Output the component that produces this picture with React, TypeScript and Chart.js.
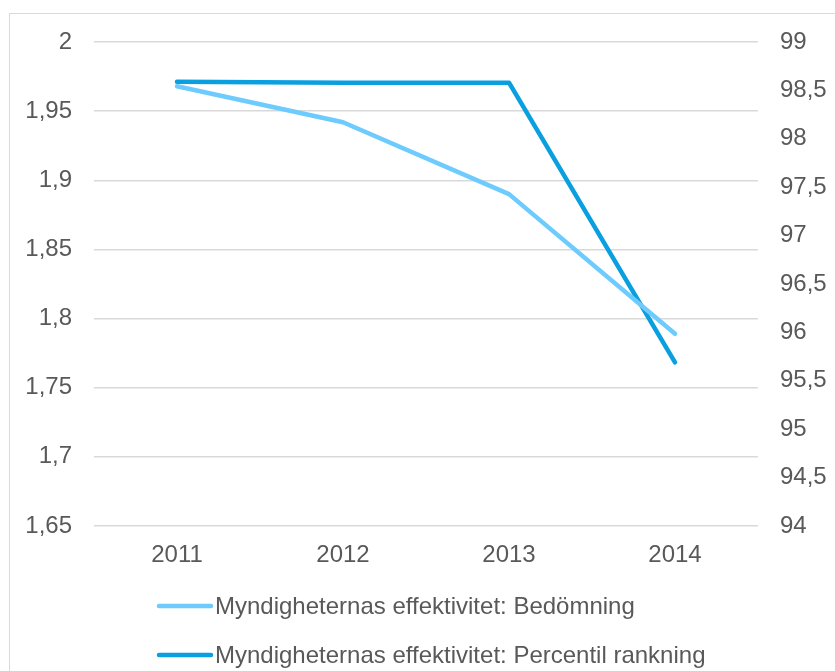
import React, { useEffect, useRef } from "react";
import { Chart, registerables } from "chart.js";

Chart.register(...registerables);

const categories = ["2011", "2012", "2013", "2014"];
const seriesNames = [
  "Myndigheternas effektivitet: Bedömning",
  "Myndigheternas effektivitet: Percentil rankning",
];
const bedomning = [1.968, 1.942, 1.89, 1.789];
const percentil = [98.59, 98.58, 98.58, 95.69];
const leftMin = 1.65;
const leftMax = 2;
const leftStep = 0.05;
const rightMin = 94;
const rightMax = 99;
const rightStep = 0.5;

const colors = ["#6DCBFE", "#0A9FDF"];
const FONT = "'Liberation Sans', Arial, sans-serif";
const TEXT = "#595959";
const GRID = "#D9D9D9";
const FS = 24;

const fmt = (v: number) => String(Number(Number(v).toFixed(2))).replace(".", ",");

export default function App() {
  const ref = useRef<HTMLCanvasElement | null>(null);

  useEffect(() => {
    if (!ref.current) return;
    const borderPlugin = {
      id: "frame",
      beforeDraw(chart: any) {
        const ctx = chart.ctx;
        ctx.save();
        ctx.fillStyle = "#ffffff";
        ctx.fillRect(0, 0, chart.width, chart.height);
        ctx.strokeStyle = GRID;
        ctx.lineWidth = 1;
        ctx.strokeRect(9.5, 13.5, 900, 800);
        ctx.restore();
      },
      afterDraw(chart: any) {
        const ctx = chart.ctx;
        ctx.save();
        const rows = [606, 655];
        chart.data.datasets.forEach((ds: any, i: number) => {
          const y = rows[i];
          ctx.strokeStyle = ds.borderColor;
          ctx.lineWidth = 4.5;
          ctx.lineCap = "round";
          ctx.beginPath();
          ctx.moveTo(159, y);
          ctx.lineTo(211, y);
          ctx.stroke();
          ctx.fillStyle = TEXT;
          ctx.font = `${FS}px ${FONT}`;
          ctx.textAlign = "left";
          ctx.textBaseline = "middle";
          ctx.fillText(ds.label, 215, y + 1);
        });
        ctx.restore();
      },
    };

    const chart = new Chart(ref.current, {
      type: "line",
      data: {
        labels: categories,
        datasets: [
          {
            label: seriesNames[0],
            data: bedomning,
            borderColor: colors[0],
            backgroundColor: colors[0],
            borderWidth: 4.5,
            pointRadius: 0,
            borderCapStyle: "round",
            borderJoinStyle: "round",
            yAxisID: "y",
          },
          {
            label: seriesNames[1],
            data: percentil,
            borderColor: colors[1],
            backgroundColor: colors[1],
            borderWidth: 4.5,
            pointRadius: 0,
            borderCapStyle: "round",
            borderJoinStyle: "round",
            yAxisID: "y1",
          },
        ],
      },
      options: {
        responsive: false,
        animation: false,
        layout: { padding: { top: 42, left: 0, right: 0, bottom: 100 } },
        plugins: {
          legend: { display: false },
          tooltip: { enabled: false },
        },
        scales: {
          x: {
            offset: true,
            grid: { display: false, drawTicks: false },
            border: { display: false },
            ticks: { color: TEXT, font: { family: FONT, size: FS }, padding: 15 },
            afterFit(scale: any) {
              scale.height = 45;
            },
          },
          y: {
            position: "left",
            min: leftMin,
            max: leftMax,
            grid: { color: GRID, lineWidth: 1.5, drawTicks: false },
            border: { display: false },
            ticks: {
              stepSize: leftStep,
              color: TEXT,
              font: { family: FONT, size: FS },
              padding: 22,
              callback: (v: any) => fmt(v),
            },
            afterFit(scale: any) {
              scale.width = 94;
            },
          },
          y1: {
            position: "right",
            min: rightMin,
            max: rightMax,
            grid: { display: false, drawTicks: false },
            border: { display: false },
            ticks: {
              stepSize: rightStep,
              color: TEXT,
              font: { family: FONT, size: FS },
              padding: 22,
              callback: (v: any) => fmt(v),
            },
            afterFit(scale: any) {
              scale.width = 77;
            },
          },
        },
      },
      plugins: [borderPlugin],
    } as any);

    return () => chart.destroy();
  }, []);

  return (
    <div style={{ position: "absolute", left: 0, top: 0, width: 835, height: 671, background: "#fff" }}>
      <canvas ref={ref} width={835} height={671} style={{ display: "block" }} />
    </div>
  );
}
